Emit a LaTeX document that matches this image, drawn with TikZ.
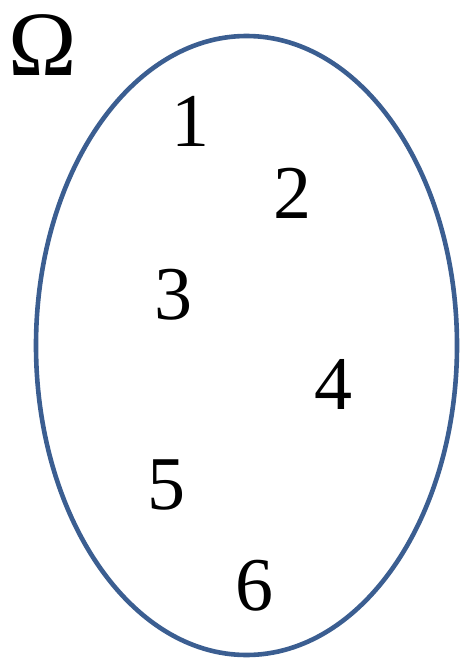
\documentclass[tikz,border=0pt]{standalone}
\usepackage{fontspec}
\setmainfont{Liberation Serif}
\usetikzlibrary{shapes.geometric}
\definecolor{ellblue}{RGB}{59,94,145}
\begin{document}
\begin{tikzpicture}[x=1pt,y=-1pt,
  num/.style={inner sep=0pt,font=\fontsize{76}{80}\selectfont},
  omega/.style={inner sep=0pt,font=\fontsize{92}{96}\selectfont}]
\useasboundingbox (0,0) rectangle (461,658);
\node[draw=ellblue,line width=4.6pt,ellipse,minimum width=421pt,minimum height=619pt,inner sep=0pt] (set) at (246.5,345.5) {};
\node[omega] (om) at (43,45) {Ω};
\node[num] (n1) at (190,121) {1};
\node[num] (n2) at (292,193) {2};
\node[num] (n3) at (173,295) {3};
\node[num] (n4) at (333,384) {4};
\node[num] (n5) at (166,485) {5};
\node[num] (n6) at (254,586) {6};
\end{tikzpicture}
\end{document}
